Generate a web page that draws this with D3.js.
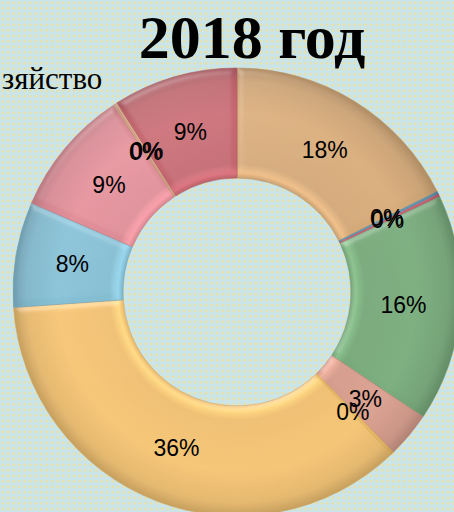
<!DOCTYPE html>
<html>
<head>
<meta charset="utf-8">
<script src="https://cdn.jsdelivr.net/npm/d3@7"></script>
<style>
  html, body { margin: 0; padding: 0; overflow: hidden; }
  svg { display: block; }
</style>
</head>
<body>
<script>
const w = 454;
const h = 512;

// data, clockwise from 12 o'clock
const categories = ["s1", "s2", "s3", "s4", "s5", "s6", "s7", "s8", "s9", "s10", "s11", "s12"];
const values = [17.6, 0.2, 0.2, 16.4, 3.3, 0.2, 36.0, 7.6, 9.2, 0.15, 0.15, 9.0];
const colors = ["#d2a878", "#5894b0", "#c85a6c", "#78a97b", "#d49c8c", "#eab85c",
                "#eebf72", "#84bcd0", "#dc8c96", "#d09c7c", "#e0a888", "#c2666f"];
const title = "2018 год";
const legendText = "зяйство";

const cx = 237, cy = 292;
const outerR = 224, innerR = 114, labelR = 167;

const svg = d3.select("body")
  .append("svg")
  .attr("width", w)
  .attr("height", h);

const defs = svg.append("defs");

// dotted background
const pat = defs.append("pattern")
  .attr("id", "dots")
  .attr("width", 5.5)
  .attr("height", 5.5)
  .attr("patternUnits", "userSpaceOnUse");
pat.append("rect").attr("width", 5.5).attr("height", 5.5).attr("fill", "#c9e5ea");
pat.append("circle").attr("cx", 2.75).attr("cy", 2.75).attr("r", 1.4).attr("fill", "#efdf9c");

svg.append("rect")
  .attr("width", w)
  .attr("height", h)
  .attr("fill", "url(#dots)");

// radial shading for each slice
colors.forEach((c, i) => {
  const g = defs.append("radialGradient")
    .attr("id", "grad" + i)
    .attr("gradientUnits", "userSpaceOnUse")
    .attr("cx", 0).attr("cy", 0).attr("r", outerR);
  const base = d3.color(c);
  g.append("stop").attr("offset", innerR / outerR).attr("stop-color", base.darker(0.1));
  g.append("stop").attr("offset", (innerR + 5) / outerR).attr("stop-color", base.brighter(0.35));
  g.append("stop").attr("offset", (innerR + 14) / outerR).attr("stop-color", base);
  g.append("stop").attr("offset", 0.8).attr("stop-color", base.brighter(0.08));
  g.append("stop").attr("offset", 0.94).attr("stop-color", base.darker(0.12));
  g.append("stop").attr("offset", 1).attr("stop-color", base.darker(0.5));
});

// bevel
const f = defs.append("filter").attr("id", "bevel")
  .attr("x", "-10%").attr("y", "-10%").attr("width", "120%").attr("height", "120%");
f.append("feGaussianBlur").attr("in", "SourceAlpha").attr("stdDeviation", 3).attr("result", "blur");
const spec = f.append("feSpecularLighting")
  .attr("in", "blur")
  .attr("surfaceScale", 3)
  .attr("specularConstant", 0.5)
  .attr("specularExponent", 18)
  .attr("lighting-color", "#ffffff")
  .attr("result", "spec");
spec.append("fePointLight").attr("x", -200).attr("y", -400).attr("z", 300);
f.append("feComposite").attr("in", "spec").attr("in2", "SourceAlpha").attr("operator", "in").attr("result", "specIn");
f.append("feComposite").attr("in", "SourceGraphic").attr("in2", "specIn")
  .attr("operator", "arithmetic").attr("k1", 0).attr("k2", 1).attr("k3", 0.35).attr("k4", 0);

const pie = d3.pie().sort(null).value((d) => d);
const arcs = pie(values);

const arc = d3.arc().innerRadius(innerR).outerRadius(outerR);
const labelArc = d3.arc().innerRadius(labelR).outerRadius(labelR);

const g = svg.append("g")
  .attr("transform", "translate(" + cx + "," + cy + ")");

g.selectAll("path")
  .data(arcs)
  .enter()
  .append("path")
  .attr("d", arc)
  .attr("fill", (d, i) => "url(#grad" + i + ")")
  .attr("stroke", (d, i) => d3.color(colors[i]).darker(0.4))
  .attr("stroke-width", 0.6)
  .attr("filter", "url(#bevel)");

const total = d3.sum(values);
const fmt = d3.format(".0%");

g.selectAll("text.lbl")
  .data(arcs)
  .enter()
  .append("text")
  .attr("class", "lbl")
  .attr("transform", (d) => "translate(" + labelArc.centroid(d) + ")")
  .attr("text-anchor", "middle")
  .attr("dy", "0.35em")
  .attr("font-family", "Liberation Sans, Arial, sans-serif")
  .attr("font-size", "23px")
  .attr("fill", "#000")
  .text((d) => fmt(d.value / total));

svg.append("text")
  .attr("x", 252)
  .attr("y", 58)
  .attr("text-anchor", "middle")
  .attr("font-family", "Liberation Serif, Times New Roman, serif")
  .attr("font-weight", "bold")
  .attr("font-size", "62px")
  .text(title);

svg.append("text")
  .attr("x", 2)
  .attr("y", 89)
  .attr("font-family", "Liberation Serif, Times New Roman, serif")
  .attr("font-size", "31px")
  .text(legendText);
</script>
</body>
</html>
